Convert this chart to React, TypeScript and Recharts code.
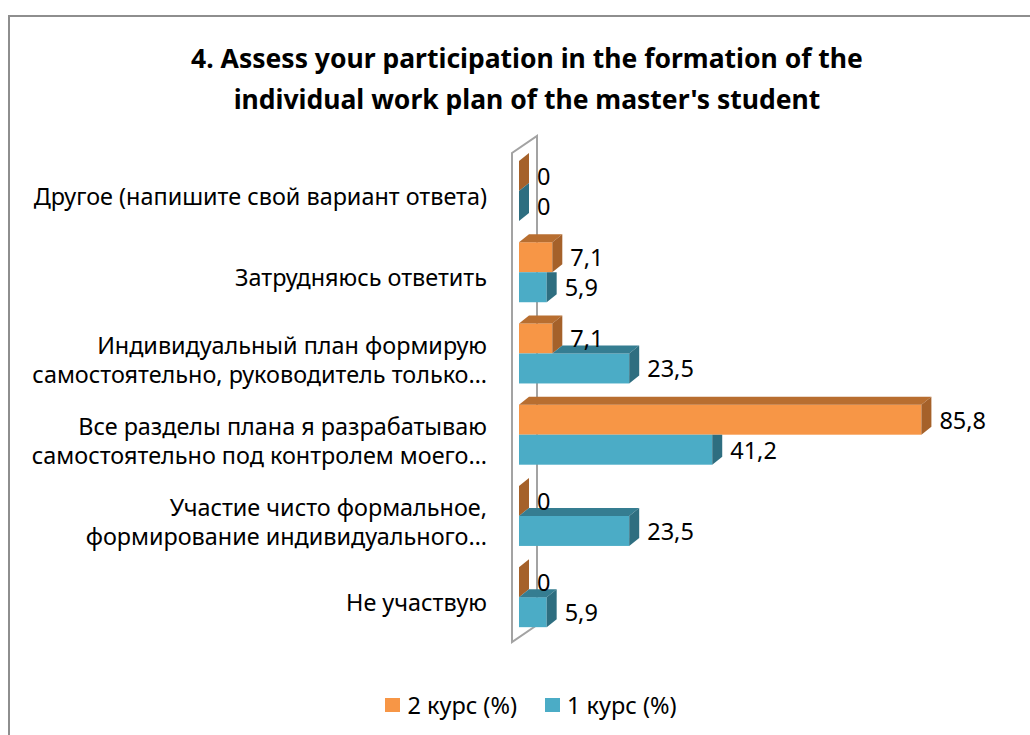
import React from 'react';
import { BarChart, Bar, XAxis, YAxis, CartesianGrid, LabelList } from 'recharts';

const categories = [
  'Другое (напишите свой вариант ответа)',
  'Затрудняюсь ответить',
  'Индивидуальный план формирую самостоятельно, руководитель только…',
  'Все разделы плана я разрабатываю самостоятельно под контролем моего…',
  'Участие чисто формальное, формирование индивидуального…',
  'Не участвую',
];

const tickLines = [
  ['Другое (напишите свой вариант ответа)'],
  ['Затрудняюсь ответить'],
  ['Индивидуальный план формирую', 'самостоятельно, руководитель только…'],
  ['Все разделы плана я разрабатываю', 'самостоятельно под контролем моего…'],
  ['Участие чисто формальное,', 'формирование индивидуального…'],
  ['Не участвую'],
];

const course2 = [0, 7.1, 7.1, 85.8, 0, 0];
const course1 = [0, 5.9, 23.5, 41.2, 23.5, 5.9];

const seriesNames = ['2 курс (%)', '1 курс (%)'];

const rows = categories.map((name, i) => ({ name, c2: course2[i], c1: course1[i] }));

const FONT = '"Noto Sans", "DejaVu Sans", sans-serif';
const DX = 10;
const DY = 8;

const ORANGE = { front: '#F79646', top: '#B86E30', side: '#A5612A' };
const BLUE = { front: '#4BACC6', top: '#357D91', side: '#2E6E80' };

const pts = (arr: number[][]) => arr.map((p) => p.join(',')).join(' ');

// 3D box for the upper (orange) series
const OrangeShape = (props: any) => {
  const { x, y, height } = props;
  const w = Math.max(props.width || 0, 0);
  const xe = x + w;
  return (
    <g>
      {w > 0 && <rect x={x} y={y} width={w} height={height} fill={ORANGE.front} />}
      {w > 0 && (
        <polygon points={pts([[x, y], [xe, y], [xe + DX, y - DY], [x + DX, y - DY]])} fill={ORANGE.top} />
      )}
      <polygon points={pts([[xe, y], [xe + DX, y - DY], [xe + DX, y + height - DY], [xe, y + height]])} fill={ORANGE.side} />
    </g>
  );
};

// lower (blue) series: its top face / side are partly hidden by the orange box above
const BlueShape = (props: any) => {
  const { x, y, height, payload } = props;
  const w = Math.max(props.width || 0, 0);
  const xe = x + w;
  const above = payload.c2;
  const own = payload.c1;
  const wo = own > 0 ? (above * w) / own : 0;
  const side =
    above > own
      ? [[xe, y], [xe + DX, y], [xe + DX, y + height - DY], [xe, y + height]]
      : [[xe, y], [xe + DX, y - DY], [xe + DX, y + height - DY], [xe, y + height]];
  return (
    <g>
      {w > 0 && <rect x={x} y={y} width={w} height={height} fill={BLUE.front} />}
      {own > above && (
        <polygon points={pts([[x + wo, y], [xe, y], [xe + DX, y - DY], [x + wo + DX, y - DY]])} fill={BLUE.top} />
      )}
      <polygon points={pts(side)} fill={BLUE.side} />
    </g>
  );
};

const ValueLabel = (props: any) => {
  const { x, y, width, height, value } = props;
  return (
    <text
      x={x + Math.max(width, 0) + DX + 8}
      y={y + height / 2}
      dominantBaseline="central"
      fontFamily={FONT}
      fontSize={23.5}
      fill="#000"
    >
      {String(value).replace('.', ',')}
    </text>
  );
};

const CategoryTick = (props: any) => {
  const { x, y, payload } = props;
  const lines = tickLines[payload.index] || [payload.value];
  const offsets = lines.length === 1 ? [5] : [-8.5, 20.5];
  return (
    <g>
      {lines.map((line, i) => (
        <text
          key={i}
          x={x}
          y={y + offsets[i]}
          textAnchor="end"
          dominantBaseline="central"
          fontFamily={FONT}
          fontSize={23.4}
          fill="#000"
        >
          {line}
        </text>
      ))}
    </g>
  );
};

// side wall of the 3D plot area, drawn behind the bars
const Wall = (props: any) => {
  const { x1, y1, y2 } = props;
  const fx = x1 - 7;
  const bx = x1 + 18;
  const d = `M${fx},${y1 + 3} L${fx},${y2 + 4.6} L${bx},${y2 - 12.4} L${bx},${y1 - 14} Z`;
  return <path d={d} fill="none" stroke="#A3A3A3" strokeWidth={2} />;
};

const LegendItem = ({ color, label, gap }: { color: string; label: string; gap: number }) => (
  <div style={{ display: 'flex', alignItems: 'center', marginRight: gap }}>
    <div style={{ width: 15, height: 14, background: color, marginRight: 7 }} />
    <span>{label}</span>
  </div>
);

export default function App() {
  return (
    <div
      style={{
        position: 'fixed',
        left: 0,
        top: 0,
        width: 1030,
        height: 735,
        overflow: 'hidden',
        background: '#fff',
        fontFamily: FONT,
      }}
    >
      <div
        style={{
          position: 'absolute',
          left: 8,
          top: 15,
          width: 1100,
          height: 800,
          border: '2px solid #8E8E8E',
        }}
      />
      <div
        style={{
          position: 'absolute',
          left: 9,
          width: 1036,
          top: 38,
          textAlign: 'center',
          fontWeight: 700,
          fontSize: 26.5,
          lineHeight: '41px',
          color: '#000',
        }}
      >
        4. Assess your participation in the formation of the
        <br />
        individual work plan of the master's student
      </div>
      <div style={{ position: 'absolute', left: 0, top: 0 }}>
        <BarChart
          layout="vertical"
          width={1030}
          height={735}
          data={rows}
          margin={{ top: 150, right: 42, bottom: 97.6, left: 0 }}
          barGap={0}
          barSize={30}
        >
          <CartesianGrid
            horizontal={false}
            vertical={Wall}
            verticalCoordinatesGenerator={({ offset }: any) => [offset.left]}
          />
          <XAxis type="number" domain={[0, 100]} hide />
          <YAxis
            type="category"
            dataKey="name"
            width={519}
            axisLine={false}
            tickLine={false}
            tickSize={0}
            tickMargin={32}
            interval={0}
            tick={CategoryTick}
          />
          <Bar dataKey="c2" name={seriesNames[0]} fill={ORANGE.front} shape={OrangeShape} isAnimationActive={false}>
            <LabelList dataKey="c2" content={ValueLabel} />
          </Bar>
          <Bar dataKey="c1" name={seriesNames[1]} fill={BLUE.front} shape={BlueShape} isAnimationActive={false}>
            <LabelList dataKey="c1" content={ValueLabel} />
          </Bar>
        </BarChart>
      </div>
      <div
        style={{
          position: 'absolute',
          left: 0,
          width: 1030,
          top: 689,
          display: 'flex',
          justifyContent: 'center',
          fontSize: 23.5,
          color: '#000',
          paddingLeft: 32,
          boxSizing: 'border-box',
        }}
      >
        <LegendItem color={ORANGE.front} label={seriesNames[0]} gap={28} />
        <LegendItem color={BLUE.front} label={seriesNames[1]} gap={0} />
      </div>
    </div>
  );
}
